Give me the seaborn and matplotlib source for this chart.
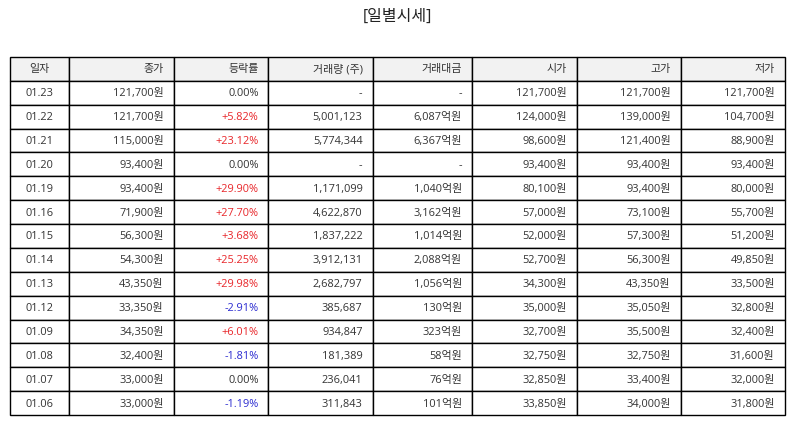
import matplotlib
matplotlib.use("Agg")
import matplotlib.pyplot as plt
import matplotlib.transforms as mtransforms
import seaborn as sns

sns.set_theme(style="white")
plt.rcParams['font.family'] = ['Open Sans', 'Noto Sans CJK KR', 'DejaVu Sans']

headers = ["일자", "종가", "등락률", "거래량 (주)", "거래대금", "시가", "고가", "저가"]
dates = ["01.23", "01.22", "01.21", "01.20", "01.19", "01.16", "01.15", "01.14",
         "01.13", "01.12", "01.09", "01.08", "01.07", "01.06"]
close = [121700, 121700, 115000, 93400, 93400, 71900, 56300, 54300,
         43350, 33350, 34350, 32400, 33000, 33000]
change = [0.00, 5.82, 23.12, 0.00, 29.90, 27.70, 3.68, 25.25,
          29.98, -2.91, 6.01, -1.81, 0.00, -1.19]
volume = [None, 5001123, 5774344, None, 1171099, 4622870, 1837222, 3912131,
          2682797, 385687, 934847, 181389, 236041, 311843]
amount = [None, 6087, 6367, None, 1040, 3162, 1014, 2088,
          1056, 130, 323, 58, 76, 101]
open_ = [121700, 124000, 98600, 93400, 80100, 57000, 52000, 52700,
         34300, 35000, 32700, 32750, 32850, 33850]
high = [121700, 139000, 121400, 93400, 93400, 73100, 57300, 56300,
        43350, 35050, 35500, 32750, 33400, 34000]
low = [121700, 104700, 88900, 93400, 80000, 55700, 51200, 49850,
       33500, 32800, 32400, 31600, 32000, 31800]

def won(v):
    return f"{v:,}원"

def pct(v):
    if v > 0:
        return f"+{v:.2f}%"
    return f"{v:.2f}%"

rows = []
for i in range(len(dates)):
    rows.append([
        dates[i], won(close[i]), pct(change[i]),
        "-" if volume[i] is None else f"{volume[i]:,}",
        "-" if amount[i] is None else f"{amount[i]:,}억원",
        won(open_[i]), won(high[i]), won(low[i]),
    ])

W, H = 795, 425
fig = plt.figure(figsize=(W / 100, H / 100), dpi=100)
ax = fig.add_axes([0, 0, 1, 1])
ax.set_axis_off()

col_px = [59, 105, 94, 105, 99, 105, 104, 104]
total = sum(col_px)
x0, x1 = 10, 785
y_top, y_bot = 57, 415
bbox = [x0 / W, 1 - y_bot / H, (x1 - x0) / W, (y_bot - y_top) / H]

tbl = ax.table(cellText=rows, colLabels=headers, bbox=bbox, cellLoc="right",
               colLoc="right", colWidths=[c / total for c in col_px])
tbl.auto_set_font_size(False)

shift = mtransforms.ScaledTranslation(0, -1 / 100, fig.dpi_scale_trans)

for (r, c), cell in tbl.get_celld().items():
    cell.set_edgecolor("black")
    cell.set_linewidth(1.0)
    cell.PAD = 0.1
    t = cell.get_text()
    t.set_fontsize(7.9)
    t.set_color("#333333")
    t.set_transform(t.get_transform() + shift)
    if c == 0:
        t.set_horizontalalignment("center")
        cell._loc = "center"
    if r == 0:
        cell.set_facecolor("#f2f2f2")
    else:
        cell.set_facecolor("white")
        if c == 2:
            v = change[r - 1]
            if v > 0:
                t.set_color("#e8262a")
            elif v < 0:
                t.set_color("#2b2bd0")

fig.text(0.5, 1 - 17 / H, "[일별시세]", ha="center", va="center", fontsize=11.5,
         color="#222222")

fig.savefig("out.png", dpi=100, facecolor="white")
